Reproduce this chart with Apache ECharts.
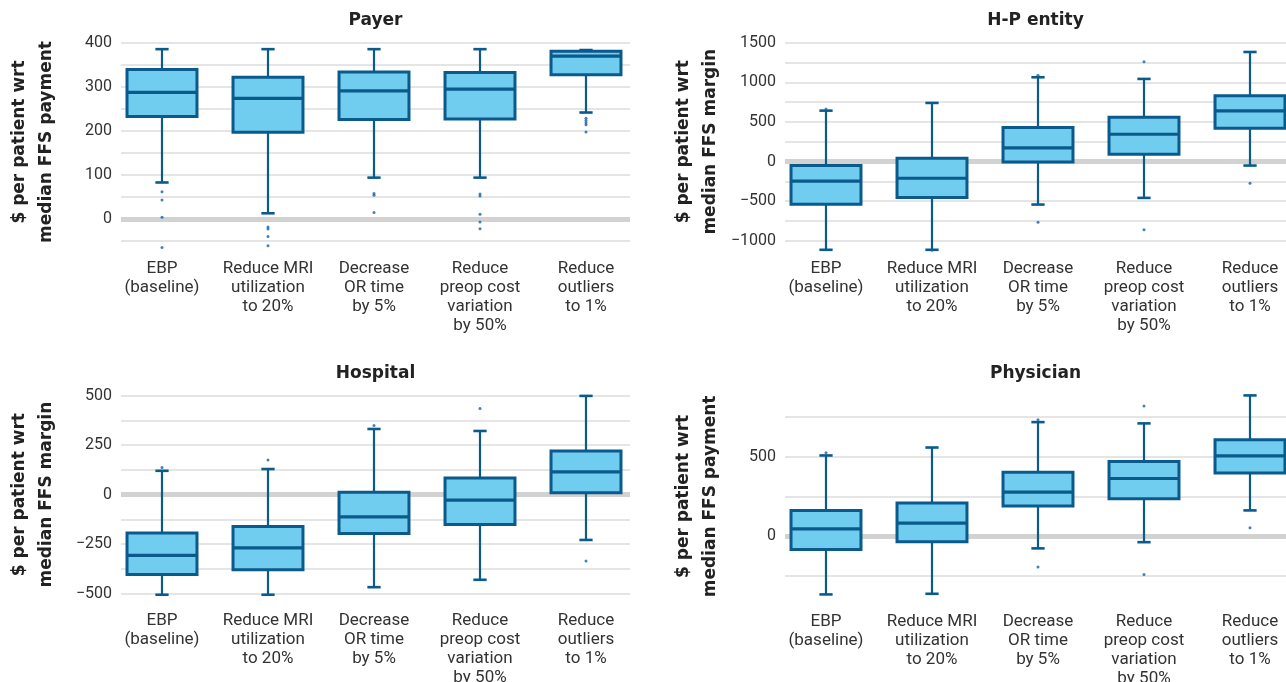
<!DOCTYPE html>
<html>
<head>
<meta charset="utf-8">
<script src="https://cdn.jsdelivr.net/npm/echarts@6/dist/echarts.min.js"></script>
<style>
  html, body { margin: 0; padding: 0; background: #fff; }
  #chart { width: 1286px; height: 682px; }
</style>
</head>
<body>
<div id="chart"></div>
<script>
// categories shared by the four panels
const categories = [
  'EBP\n(baseline)',
  'Reduce MRI\nutilization\nto 20%',
  'Decrease\nOR time\nby 5%',
  'Reduce\npreop cost\nvariation\nby 50%',
  'Reduce\noutliers\nto 1%'
];

// [low whisker, q1, median, q3, high whisker] per category
const payerBoxes = [
  [83, 233, 288, 340, 386],
  [13, 197, 274, 322, 386],
  [94, 226, 291, 334, 386],
  [94, 227, 295, 333, 386],
  [242, 328, 370, 381, 384]
];
const payerOutliers = [
  [0, 62], [0, 43], [0, 4], [0, -65],
  [1, -18], [1, -23], [1, -40], [1, -61],
  [2, 58], [2, 54], [2, 15],
  [3, 57], [3, 52], [3, 11], [3, -7], [3, -22],
  [4, 229], [4, 224], [4, 219], [4, 214], [4, 198]
];

const hpBoxes = [
  [-1113, -537, -247, -50, 643],
  [-1113, -454, -210, 43, 740],
  [-542, -4, 173, 429, 1064],
  [-458, 93, 345, 560, 1043],
  [-50, 421, 639, 832, 1383]
];
const hpOutliers = [
  [0, 665], [1, -1120], [2, 1090], [2, -764], [3, 1261], [3, -861], [4, -272]
];

const hospitalBoxes = [
  [-500, -398, -302, -190, 122],
  [-500, -374, -265, -158, 131],
  [-462, -193, -109, 15, 332],
  [-425, -148, -25, 86, 322],
  [-225, 12, 117, 221, 498]
];
const hospitalOutliers = [
  [0, 139], [1, 176], [2, 349], [3, 435], [4, -331]
];

const physicianBoxes = [
  [-367, -84, 46, 162, 508],
  [-363, -35, 82, 208, 558],
  [-77, 189, 277, 403, 718],
  [-38, 235, 363, 470, 710],
  [162, 397, 506, 607, 886]
];
const physicianOutliers = [
  [0, 525], [2, 733], [2, -195], [3, 819], [3, -241], [4, 53]
];

const DARK = '#0b5a8c';
const FILL = '#70cdef';
const GRID_LINE = '#dcdcdc';
const ZERO_LINE = '#d2d2d2';
const LABEL_FONT = 'Roboto, "Noto Sans", sans-serif';
const BOLD_FONT = '"DejaVu Sans", "Noto Sans", sans-serif';

const panels = [
  {
    title: 'Payer', boxes: payerBoxes, outliers: payerOutliers,
    yName: '$ per patient wrt\nmedian FFS payment',
    lines: { left: 121, top: 43, width: 509, height: 198, min: -50, max: 400, interval: 50, step: 100 },
    marks: { left: 109, top: 43, width: 530, height: 211.2, min: -80, max: 400 },
    titleY: 21, labelMargin: 5
  },
  {
    title: 'H-P entity', boxes: hpBoxes, outliers: hpOutliers,
    yName: '$ per patient wrt\nmedian FFS margin',
    lines: { left: 785, top: 42.7, width: 501, height: 198, min: -1000, max: 1500, interval: 250, step: 500 },
    marks: { left: 773, top: 42.7, width: 530, height: 214, min: -1200, max: 1500 },
    titleY: 21, labelMargin: 3
  },
  {
    title: 'Hospital', boxes: hospitalBoxes, outliers: hospitalOutliers,
    yName: '$ per patient wrt\nmedian FFS margin',
    lines: { left: 121, top: 395.5, width: 509, height: 198.3, min: -500, max: 500, interval: 125, step: 250 },
    marks: { left: 109, top: 395.5, width: 530, height: 211.2, min: -560, max: 500 },
    titleY: 374, labelMargin: 5
  },
  {
    title: 'Physician', boxes: physicianBoxes, outliers: physicianOutliers,
    yName: '$ per patient wrt\nmedian FFS payment',
    lines: { left: 785, top: 417, width: 501, height: 158.8, min: -250, max: 750, interval: 250, step: 500 },
    marks: { left: 773, top: 393.2, width: 530, height: 216, min: -460, max: 900 },
    titleY: 374, labelMargin: 3
  }
];

function renderBox(params, api) {
  const x = api.value(0);
  const low = api.coord([x, api.value(1)]);
  const q1 = api.coord([x, api.value(2)]);
  const med = api.coord([x, api.value(3)]);
  const q3 = api.coord([x, api.value(4)]);
  const high = api.coord([x, api.value(5)]);
  const band = api.size([1, 0])[0];
  const bw = band * 0.66;
  const cw = band * 0.125;
  const cx = low[0];
  const whisker = { stroke: DARK, lineWidth: 2.2 };
  const cap = { stroke: DARK, lineWidth: 2.6 };
  return {
    type: 'group',
    children: [
      { type: 'line', shape: { x1: cx, y1: high[1], x2: cx, y2: q3[1] }, style: whisker },
      { type: 'line', shape: { x1: cx, y1: q1[1], x2: cx, y2: low[1] }, style: whisker },
      { type: 'line', shape: { x1: cx - cw / 2, y1: high[1], x2: cx + cw / 2, y2: high[1] }, style: cap },
      { type: 'line', shape: { x1: cx - cw / 2, y1: low[1], x2: cx + cw / 2, y2: low[1] }, style: cap },
      {
        type: 'rect',
        shape: { x: cx - bw / 2, y: q3[1], width: bw, height: q1[1] - q3[1] },
        style: { fill: FILL, stroke: DARK, lineWidth: 3 }
      },
      { type: 'line', shape: { x1: cx - bw / 2, y1: med[1], x2: cx + bw / 2, y2: med[1] }, style: { stroke: DARK, lineWidth: 3.2 } }
    ]
  };
}

function fmtTick(v, step) {
  if (v % step !== 0) return '';
  return v < 0 ? '\u2212' + Math.abs(v) : String(v);
}

const option = {
  backgroundColor: '#ffffff',
  animation: false,
  grid: [],
  xAxis: [],
  yAxis: [],
  series: [],
  graphic: []
};

panels.forEach(function (p, i) {
  const gLines = i * 2;
  const gMarks = i * 2 + 1;

  option.grid.push({
    left: p.lines.left, top: p.lines.top, width: p.lines.width, height: p.lines.height,
    outerBoundsMode: 'none'
  });
  option.grid.push({
    left: p.marks.left, top: p.marks.top, width: p.marks.width, height: p.marks.height,
    outerBoundsMode: 'none'
  });

  option.xAxis.push({ type: 'category', gridIndex: gLines, data: categories, show: false });
  option.xAxis.push({
    type: 'category', gridIndex: gMarks, data: categories,
    axisLine: { show: false }, axisTick: { show: false },
    axisLabel: {
      interval: 0, margin: p.labelMargin, color: '#333',
      fontFamily: LABEL_FONT, fontSize: 17, lineHeight: 19
    }
  });

  option.yAxis.push({
    type: 'value', gridIndex: gLines,
    min: p.lines.min, max: p.lines.max, interval: p.lines.interval,
    axisLine: { show: false }, axisTick: { show: false },
    axisLabel: {
      margin: 9, color: '#333', fontFamily: LABEL_FONT, fontSize: 16,
      formatter: function (v) { return fmtTick(v, p.lines.step); }
    },
    splitLine: { show: true, lineStyle: { color: GRID_LINE, width: 1.5 } },
    name: p.yName, nameLocation: 'middle', nameRotate: 90, nameGap: 61,
    nameTextStyle: { fontFamily: BOLD_FONT, fontWeight: 'bold', fontSize: 17, lineHeight: 27, color: '#222' }
  });
  option.yAxis.push({
    type: 'value', gridIndex: gMarks, min: p.marks.min, max: p.marks.max, show: false,
    splitLine: { show: false }
  });

  // thick zero reference line, kept behind the boxes
  option.series.push({
    type: 'line', xAxisIndex: gLines, yAxisIndex: gLines, z: 1,
    data: ['-', '-', '-', '-', '-'], silent: true,
    markLine: {
      z: 1, silent: true, symbol: 'none', label: { show: false },
      lineStyle: { color: ZERO_LINE, width: 5, type: 'solid' },
      data: [{ yAxis: 0 }]
    }
  });

  option.series.push({
    type: 'custom', xAxisIndex: gMarks, yAxisIndex: gMarks, z: 3,
    renderItem: renderBox,
    encode: { x: 0, y: [1, 2, 3, 4, 5] },
    data: p.boxes.map(function (b, k) { return [k].concat(b); })
  });

  option.series.push({
    type: 'scatter', xAxisIndex: gMarks, yAxisIndex: gMarks, z: 4,
    symbolSize: 3, itemStyle: { color: '#1662a0' },
    data: p.outliers
  });

  option.graphic.push({
    type: 'text', x: p.lines.left + p.lines.width / 2, y: p.titleY,
    style: {
      text: p.title, textAlign: 'center', textVerticalAlign: 'middle',
      font: 'bold 17px ' + BOLD_FONT, fill: '#222'
    }
  });
});

const chart = echarts.init(document.getElementById('chart'));
chart.setOption(option);
</script>
</body>
</html>
